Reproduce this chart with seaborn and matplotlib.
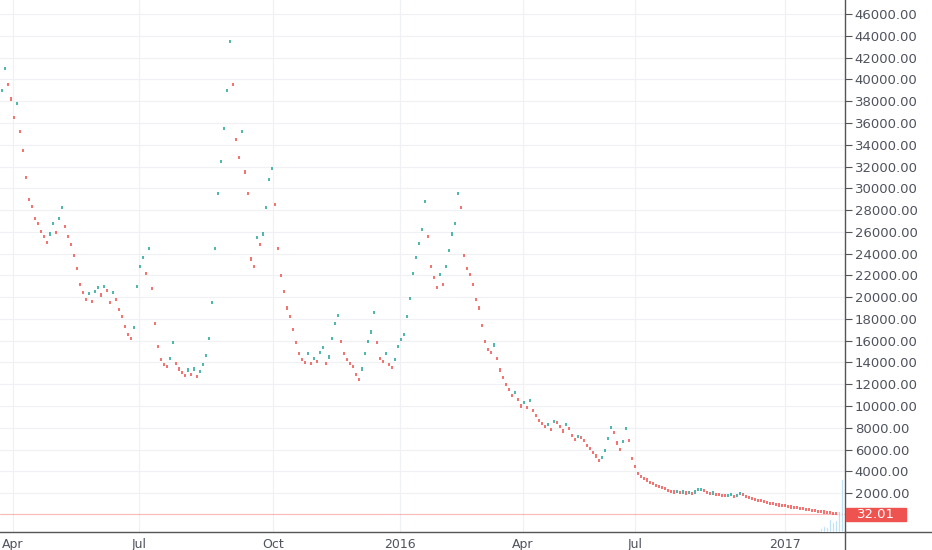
import numpy as np
import pandas as pd
import seaborn as sns
import matplotlib.pyplot as plt
from matplotlib.patches import Rectangle
from matplotlib.lines import Line2D

# --- closing prices, one bar each ---
close = [
    39000, 41000, 39500, 38200, 36500, 37800, 35200, 33500, 31000, 29000,
    28300, 27200, 26800, 26000, 25600, 25000, 25800, 26800, 25900, 27200,
    28200, 26500, 25600, 24800, 23800, 22600, 21200, 20400, 19800, 20300,
    19600, 20500, 20900, 20200, 21000, 20600, 19500, 20400, 19800, 18900,
    18200, 17300, 16600, 16200, 17200, 21000, 22800, 23600, 22200, 24500,
    20800, 17600, 15500, 14300, 13800, 13600, 14400, 15800, 13900, 13400,
    13100, 12800, 13300, 12900, 13400, 12700, 13200, 13800, 14600, 16200,
    19500, 24500, 29500, 32500, 35500, 39000, 43500, 39500, 34500, 32800,
    35200, 31500, 29500, 23500, 22800, 25500, 24800, 25800, 28200, 30800,
    31800, 28500, 24500, 22000, 20500, 19000, 18200, 17000, 15800, 14800,
    14300, 14000, 14800, 13900, 14400, 14100, 14900, 15400, 13900, 14500,
    16200, 17600, 18300, 15900, 14800, 14300, 13900, 13600, 12900, 12400,
    13400, 14800, 15900, 16800, 18600, 15800, 14400, 14100, 14800, 13800,
    13500, 14300, 15500, 16100, 16600, 18200, 19900, 22200, 23600, 24900,
    26200, 28800, 25600, 22800, 21800, 20900, 22100, 21200, 22800, 24300,
    25800, 26800, 29500, 28200, 23800, 22600, 22100, 21200, 19800, 19000,
    17400, 15900, 15200, 14900, 15600, 14400, 13300, 12600, 12000, 11500,
    11000, 11200, 10600, 10000, 10300, 9900, 10500, 9600, 9100, 8700,
    8400, 8100, 8300, 7800, 8600, 8500, 8100, 7700, 8300, 7900,
    7300, 6900, 7200, 7100, 6800, 6400, 6100, 5700, 5400, 5000,
    5300, 5900, 7000, 8000, 7600, 6600, 6000, 6700, 7900, 6800,
    5200, 4400, 3800, 3500, 3300, 3200, 3000, 2850, 2700, 2600,
    2500, 2400, 2250, 2150, 2100, 2150, 2050, 2100, 2000, 2050,
    1950, 2100, 2300, 2350, 2200, 2050, 1950, 2000, 1900, 1850,
    1800, 1750, 1800, 1850, 1700, 1800, 1950, 1850, 1650, 1550,
    1500, 1400, 1350, 1300, 1250, 1150, 1050, 1000, 950, 900,
    880, 820, 760, 720, 680, 640, 580, 540, 500, 460,
    420, 380, 340, 300, 260, 220, 180, 140, 100, 70,
    32.01,
]

# volume of the last bars only (light blue at the bottom right)
volume_tail = [0.8, 1.2, 1.0, 2.5, 1.8, 2.2, 4.0, 10.0]

tick_bars = [3.7, 45.7, 90.3, 132.7, 173.7, 211, 261]
tick_labels = ['Apr', 'Jul', 'Oct', '2016', 'Apr', 'Jul', '2017']
price_ticks = list(range(2000, 46001, 2000))

last_price = close[-1]

# --- build frame ---
df = pd.DataFrame({'bar': np.arange(len(close)), 'close': close})
df['open'] = df['close'].shift(1).fillna(df['close'])
df['dir'] = np.where(df['close'] >= df['open'], 'up', 'down')

UP = '#26a69a'
DOWN = '#ef5350'
TXT = '#50535e'

# tiny candle body: a thin upright rectangle
candle = [(-0.35, -1), (0.35, -1), (0.35, 1), (-0.35, 1), (-0.35, -1)]

sns.set_style('white')
plt.rcParams['font.family'] = ['DejaVu Sans']

fig = plt.figure(figsize=(9.32, 5.5), dpi=100)
ax = fig.add_axes([0, 18 / 550, 845 / 932, 532 / 550])

# faint grid
for t in tick_bars:
    ax.axvline(t, color='#f0f1f5', lw=0.9, zorder=0)
for p in price_ticks:
    ax.axhline(p, color='#f0f1f5', lw=0.9, zorder=0)

sns.scatterplot(data=df, x='bar', y='close', hue='dir',
                palette={'up': UP, 'down': DOWN}, marker=candle, s=5,
                linewidth=0, alpha=0.8, legend=False, ax=ax, zorder=3)

# last price line
ax.axhline(last_price, color=DOWN, lw=0.8, alpha=0.4, zorder=2)

ax.set_xlim(-0.67, -0.67 + 845 / 3)
ax.set_ylim(-1580, 47300)

# volume on its own scale
ax2 = ax.twinx()
vb = np.arange(len(close) - len(volume_tail), len(close))
ax2.bar(vb, volume_tail, width=0.8, color='#8ecdf0', alpha=0.85, zorder=1)
ax2.set_ylim(0, 100)
ax2.set_yticks([])
for s in ax2.spines.values():
    s.set_visible(False)

# axes look
ax.yaxis.tick_right()
ax.set_yticks(price_ticks)
ax.set_yticklabels([f'{p:.2f}' for p in price_ticks])
ax.set_xticks(tick_bars)
ax.set_xticklabels(tick_labels)
ax.tick_params(axis='y', direction='out', length=5, width=0.8, color='#555555',
               labelsize=9.5, labelcolor=TXT, pad=2)
ax.tick_params(axis='x', direction='out', length=3, width=0.8, color='#555555',
               labelsize=9, labelcolor=TXT, pad=1)
ax.set_xlabel('')
ax.set_ylabel('')
for name, s in ax.spines.items():
    s.set_visible(name in ('bottom', 'right'))
    s.set_color('#555555')
    s.set_linewidth(1.0)

# axis line extensions like the scale panes
fig.add_artist(Line2D([845 / 932, 1], [18 / 550, 18 / 550], transform=fig.transFigure,
                      color='#555555', lw=1.0))
fig.add_artist(Line2D([845 / 932, 845 / 932], [0, 18 / 550], transform=fig.transFigure,
                      color='#555555', lw=1.0))

# last price label on the scale
fig.add_artist(Rectangle((846 / 932, (550 - 521) / 550), 60 / 932, 13 / 550,
                         transform=fig.transFigure, color=DOWN, zorder=5))
fig.text(876 / 932, (550 - 514.5) / 550, f'{last_price:.2f}', color='white',
         fontsize=9.5, ha='center', va='center', zorder=6)

fig.savefig('out.png', dpi=100)
